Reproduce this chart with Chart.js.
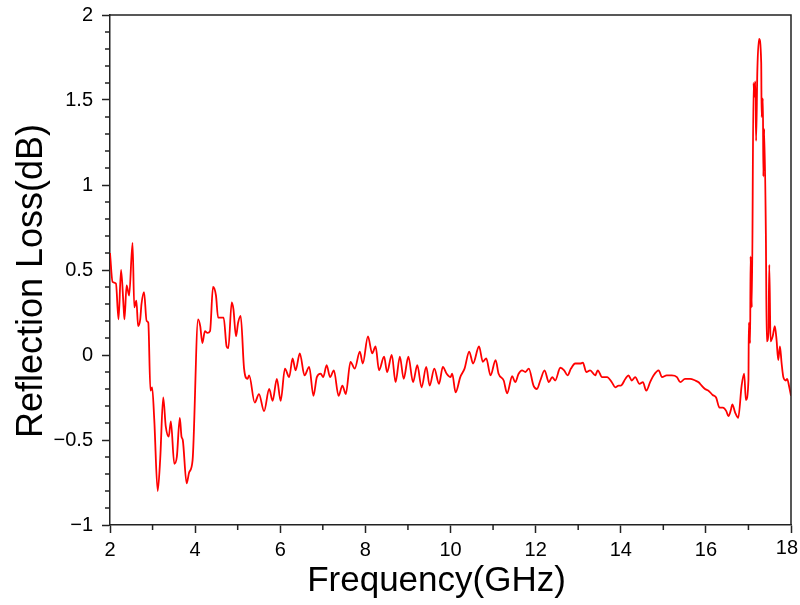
<!DOCTYPE html>
<html>
<head>
<meta charset="utf-8">
<script src="https://cdn.jsdelivr.net/npm/chart.js@4.4.0/dist/chart.umd.min.js"></script>
<style>
  html, body { margin: 0; padding: 0; background: #fff; }
  #wrap { width: 800px; height: 605px; }
</style>
</head>
<body>
<div id="wrap"><canvas id="rl-chart" width="800" height="605"></canvas></div>
<script>
// reflection loss curve

var freq = [
    2.00, 2.06, 2.14, 2.20, 2.26, 2.32, 2.34, 2.39, 2.45, 2.53, 2.57, 2.62, 2.66, 2.71, 2.74, 2.80, 2.86, 2.90,
    2.95, 2.99, 3.04, 3.12, 3.18, 3.25, 3.31, 3.38, 3.43, 3.51, 3.57, 3.64, 3.68, 3.71, 3.80, 3.86, 3.94,
    4.07, 4.12, 4.17, 4.23, 4.29, 4.35, 4.42, 4.49, 4.54, 4.67, 4.74, 4.78, 4.86, 4.90, 4.96, 5.01, 5.07,
    5.15, 5.23, 5.27, 5.40, 5.50, 5.62, 5.74, 5.82, 5.92, 6.01, 6.11, 6.21, 6.29, 6.36, 6.46, 6.57, 6.68,
    6.78, 6.86, 6.95, 7.01, 7.09, 7.17, 7.26, 7.37, 7.46, 7.54, 7.65, 7.75, 7.87, 7.94, 8.06, 8.16, 8.24,
    8.32, 8.44, 8.51, 8.62, 8.71, 8.81, 8.90, 9.01, 9.12, 9.22, 9.32, 9.43, 9.51, 9.62, 9.73, 9.82, 9.91,
    10.00, 10.04, 10.12, 10.23, 10.33, 10.44, 10.53, 10.67, 10.76, 10.84, 10.94, 11.06, 11.13, 11.25, 11.33,
    11.45, 11.52, 11.60, 11.68, 11.76, 11.84, 11.95, 12.03, 12.11, 12.21, 12.31, 12.39, 12.46, 12.58, 12.67,
    12.75, 12.83, 12.93, 13.05, 13.11, 13.19, 13.28, 13.40, 13.46, 13.56, 13.68, 13.79, 13.87, 13.95, 14.00,
    14.11, 14.18, 14.26, 14.34, 14.44, 14.52, 14.60, 14.69, 14.77, 14.89, 14.97, 15.08, 15.20, 15.32, 15.40,
    15.51, 15.63, 15.75, 15.83, 15.90, 15.98, 16.06, 16.16, 16.24, 16.32, 16.40, 16.48, 16.53, 16.59, 16.62,
    16.69, 16.76, 16.84, 16.90, 16.94, 17.00, 17.01, 17.04, 17.05, 17.08, 17.12, 17.14, 17.16, 17.18, 17.21,
    17.25, 17.30, 17.31, 17.34, 17.35, 17.37, 17.41, 17.43, 17.47, 17.49, 17.52, 17.57, 17.62, 17.66, 17.70,
    17.74, 17.78, 17.82, 17.88, 17.91, 17.96, 18.00
];

var reflLoss = [
    0.60, 0.43, 0.42, 0.21, 0.50, 0.28, 0.21, 0.41, 0.35, 0.66, 0.28, 0.32, 0.17, 0.21, 0.30, 0.37, 0.20, 0.19,
    -0.21, -0.19, -0.38, -0.80, -0.61, -0.25, -0.42, -0.48, -0.39, -0.64, -0.60, -0.37, -0.48, -0.50, -0.755, -0.69, -0.62,
    0.21, 0.17, 0.07, 0.14, 0.13, 0.14, 0.40, 0.35, 0.22, 0.22, 0.05, 0.04, 0.31, 0.27, 0.11, 0.19, 0.23,
    -0.08, -0.14, -0.12, -0.28, -0.23, -0.33, -0.20, -0.27, -0.14, -0.27, -0.08, -0.13, -0.02, -0.09, 0.01, -0.12, -0.07,
    -0.24, -0.13, -0.11, -0.13, -0.06, -0.13, -0.09, -0.24, -0.18, -0.23, -0.04, -0.08, 0.02, -0.05, 0.11, 0.01, 0.05,
    -0.09, -0.01, -0.10, 0.00, -0.16, -0.01, -0.14, -0.01, -0.16, -0.06, -0.19, -0.07, -0.18, -0.08, -0.17, -0.07, -0.11,
    -0.13, -0.11, -0.22, -0.13, -0.08, 0.02, -0.05, 0.05, -0.04, -0.02, -0.12, -0.03, -0.11, -0.15, -0.225,
    -0.125, -0.16, -0.11, -0.09, -0.10, -0.08, -0.18, -0.20, -0.15, -0.09, -0.16, -0.13, -0.15, -0.075, -0.09,
    -0.12, -0.08, -0.05, -0.05, -0.045, -0.10, -0.09, -0.12, -0.09, -0.13, -0.13, -0.16, -0.19, -0.18, -0.18,
    -0.14, -0.12, -0.15, -0.13, -0.17, -0.16, -0.21, -0.16, -0.12, -0.09, -0.13, -0.12, -0.12, -0.13, -0.16,
    -0.14, -0.14, -0.15, -0.16, -0.18, -0.20, -0.21, -0.235, -0.25, -0.31, -0.31, -0.33, -0.36, -0.32, -0.29,
    -0.34, -0.37, -0.18, -0.11, -0.265, -0.15, 0.19, 0.07, 0.58, 0.28, 1.60, 1.52, 1.61, 1.26, 1.68,
    1.86, 1.72, 1.40, 1.51, 1.05, 1.33, 0.70, 0.08, 0.13, 0.53, 0.08, 0.11, 0.17, 0.09, -0.03,
    0.05, -0.05, -0.13, -0.15, -0.14, -0.19, -0.24
];

var xTicks = [2, 4, 6, 8, 10, 12, 14, 16, 18];
var yTicks = [-1, -0.5, 0, 0.5, 1, 1.5, 2];

var xTitle = 'Frequency(GHz)';
var yTitle = 'Reflection Loss(dB)';

var fontFam = "'Liberation Sans', Arial, sans-serif";

// box frame, minor ticks, last x label and the two axis titles
var frameMinorTicks = {
    id: 'frameMinorTicks',
    afterDraw: function (chart) {
        let ctx = chart.ctx;
        let area = chart.chartArea;
        let xs = chart.scales.x;
        let ys = chart.scales.y;
        ctx.save();
        ctx.strokeStyle = '#222';
        ctx.lineWidth = 1.5;
        // top + right sides of the box
        ctx.beginPath();
        ctx.moveTo(area.left, area.top);
        ctx.lineTo(area.right, area.top);
        ctx.lineTo(area.right, area.bottom);
        ctx.stroke();
        // minor ticks
        ctx.beginPath();
        for (let v = 3; v < 18; v += 2) {
            let px = xs.getPixelForValue(v);
            ctx.moveTo(px, area.bottom);
            ctx.lineTo(px, area.bottom + 5);
        }
        for (let i = -9; i < 20; i++) {
            if (i % 5 === 0) continue;
            let py = ys.getPixelForValue(i / 10);
            ctx.moveTo(area.left, py);
            ctx.lineTo(area.left - 5, py);
        }
        ctx.stroke();

        ctx.fillStyle = '#000';

        // last x label sits left of its tick so it stays inside the canvas
        let lastX = xTicks[xTicks.length - 1];
        ctx.font = '20px ' + fontFam;
        ctx.textAlign = 'right';
        ctx.textBaseline = 'top';
        ctx.fillText(fmtTick(lastX), xs.getPixelForValue(lastX) + 7, area.bottom + 13);

        // axis titles (sit a bit toward the origin, like the original)
        ctx.textAlign = 'center';
        ctx.textBaseline = 'middle';
        ctx.font = '35px ' + fontFam;
        ctx.fillText(xTitle, (area.left + area.right) / 2 - 14, area.bottom + 56);

        ctx.font = '36px ' + fontFam;
        ctx.translate(32, (area.top + area.bottom) / 2 + 11);
        ctx.rotate(-Math.PI / 2);
        ctx.fillText(yTitle, 0, 0);
        ctx.restore();
    }
};

function fmtTick(value) {
    let s = String(Math.round(value * 10) / 10);
    return s.replace('-', '\u2212');
}

let points = freq.map((f, i) => ({ x: f, y: reflLoss[i] }));

let ctx = document.getElementById('rl-chart').getContext('2d');

new Chart(ctx, {
    type: 'line',
    data: {
        datasets: [{
            data: points,
            borderColor: '#ff0000',
            borderWidth: 1.8,
            pointRadius: 0,
            cubicInterpolationMode: 'monotone',
            fill: false
        }]
    },
    options: {
        responsive: false,
        animation: false,
        events: [],
        layout: {
            padding: { left: 0, top: 15, right: 9, bottom: 0 }
        },
        plugins: {
            legend: { display: false },
            tooltip: { enabled: false }
        },
        scales: {
            x: {
                type: 'linear',
                min: 2,
                max: 18,
                afterBuildTicks: function (scale) {
                    scale.ticks = xTicks.map(v => ({ value: v }));
                },
                afterFit: function (scale) {
                    scale.height = 80;
                    scale.paddingLeft = 0;
                    scale.paddingRight = 0;
                },
                ticks: {
                    color: '#000',
                    padding: 5,
                    maxRotation: 0,
                    font: { family: fontFam, size: 20 },
                    callback: function (value) {
                        // the last one is drawn by the plugin
                        if (value === xTicks[xTicks.length - 1]) return '';
                        return fmtTick(value);
                    }
                },
                grid: {
                    drawOnChartArea: false,
                    tickLength: 8,
                    tickColor: '#222',
                    tickWidth: 1.5
                },
                border: { color: '#222', width: 1.5 }
            },
            y: {
                type: 'linear',
                min: -1,
                max: 2,
                afterBuildTicks: function (scale) {
                    scale.ticks = yTicks.map(v => ({ value: v }));
                },
                afterFit: function (scale) {
                    scale.width = 110;
                    scale.paddingTop = 0;
                    scale.paddingBottom = 0;
                },
                ticks: {
                    color: '#000',
                    padding: 9,
                    font: { family: fontFam, size: 20 },
                    callback: fmtTick
                },
                grid: {
                    drawOnChartArea: false,
                    tickLength: 8,
                    tickColor: '#222',
                    tickWidth: 1.5
                },
                border: { color: '#222', width: 1.5 }
            }
        }
    },
    plugins: [frameMinorTicks]
});
</script>
</body>
</html>
